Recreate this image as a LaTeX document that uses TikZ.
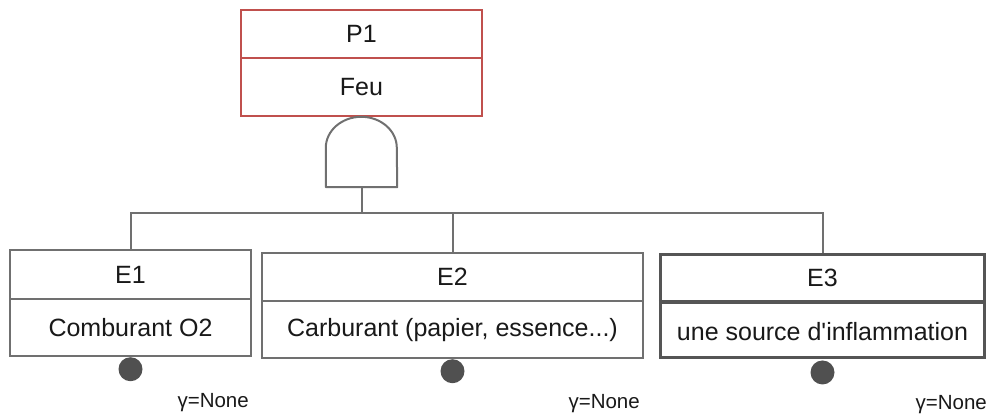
\documentclass[tikz,border=0pt]{standalone}
\usepackage{fontspec}
\setmainfont{Liberation Sans}
\usetikzlibrary{positioning}
\definecolor{redline}{RGB}{192,80,77}
\definecolor{grayline}{RGB}{112,112,112}
\definecolor{darkline}{RGB}{85,85,85}
\definecolor{dotfill}{RGB}{80,80,80}
\definecolor{txtcol}{RGB}{25,25,25}
\begin{document}
\begin{tikzpicture}[x=1pt,y=-1pt,
  boxshape/.style={draw=grayline, line width=2pt, fill=white, inner sep=0pt},
  redbox/.style={boxshape, draw=redline},
  thickbox/.style={boxshape, draw=darkline, line width=3.5pt},
  txt/.style={text=txtcol, font=\fontsize{25}{29}\selectfont, inner sep=0pt},
  lab/.style={text=txtcol, font=\fontsize{20.5}{24}\selectfont, inner sep=0pt, anchor=east},
  wire/.style={draw=grayline, line width=2pt},
  dotnode/.style={circle, fill=dotfill, minimum size=24pt, inner sep=0pt},
]
\useasboundingbox (0,0) rectangle (991,416);

% top event P1
\node[redbox, minimum width=241pt, minimum height=106pt] (P1) at (361.5,63) {};
\draw[redline, line width=2pt] (P1.west |- 0,58) -- (P1.east |- 0,58);
\node[txt] (P1id) at (361.5,34) {P1};
\node[txt] (P1desc) at (361.5,87) {Feu};

% AND gate
\node[minimum width=71pt, minimum height=70pt, inner sep=0pt] (gate) at (361.5,152) {};
\draw[wire, line join=round] (gate.south west) -- ([yshift=-31pt]gate.north west)
  arc[start angle=180, end angle=0, x radius=35.5pt, y radius=31pt]
  -- (gate.south east) -- cycle;

% basic events
\node[boxshape, minimum width=241pt, minimum height=106pt] (E1) at (130.5,303) {};
\draw[grayline, line width=2pt] (E1.west |- 0,299) -- (E1.east |- 0,299);
\node[txt] (E1id) at (130.5,274.5) {E1};
\node[txt] (E1desc) at (130.5,328) {Comburant O2};

\node[boxshape, minimum width=381pt, minimum height=105pt] (E2) at (452.5,305.5) {};
\draw[grayline, line width=2pt] (E2.west |- 0,301) -- (E2.east |- 0,301);
\node[txt] (E2id) at (452.5,276.5) {E2};
\node[txt] (E2desc) at (452.5,330) {Carburant (papier, essence...)};

\node[thickbox, minimum width=324pt, minimum height=103pt] (E3) at (822.5,306) {};
\draw[darkline, line width=3.5pt] (E3.west |- 0,302) -- (E3.east |- 0,302);
\node[txt] (E3id) at (822.5,277.5) {E3};
\node[txt] (E3desc) at (822.5,331.5) {une source d\textquotesingle inflammation};

% connectors
\coordinate (bus) at (361.5,213);
\draw[wire] (gate.south) -- (bus);
\draw[wire] (E1.north) |- (bus) -| (E3.north);
\draw[wire] (bus -| E2.north) -- (E2.north);

% dots
\node[dotnode, below=0pt of E1.south] (D1) {};
\node[dotnode, below=0pt of E2.south] (D2) {};
\node[dotnode, below=1pt of E3.south] (D3) {};

% labels
\node[lab] (L1) at (249,403) {γ=None};
\node[lab] (L2) at (640,404) {γ=None};
\node[lab] (L3) at (987,405) {γ=None};
\end{tikzpicture}
\end{document}
